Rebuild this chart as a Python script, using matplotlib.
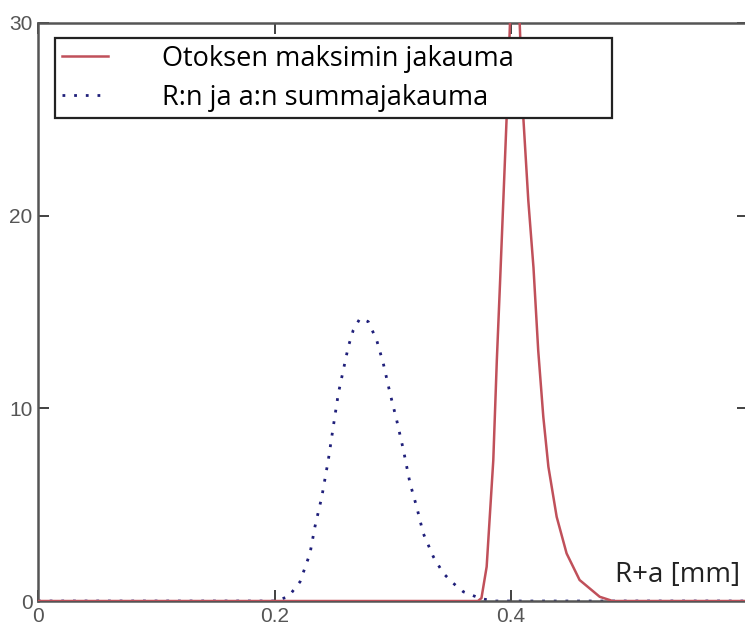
import numpy as np
import matplotlib
matplotlib.use("Agg")
import matplotlib.pyplot as plt

# values
max_x = [0.0, 0.372, 0.375, 0.3794, 0.385, 0.388, 0.3907, 0.3935, 0.3963,
         0.400, 0.403, 0.407, 0.4104, 0.4146, 0.419, 0.423, 0.4273, 0.4316,
         0.4386, 0.447, 0.458, 0.475, 0.486, 0.6]
max_y = [0.0, 0.0, 0.15, 1.78, 7.3, 12.5, 16.5, 20.8, 25.1,
         31.5, 33.0, 30.5, 25.1, 20.8, 17.3, 13.0, 9.56, 6.97,
         4.37, 2.47, 1.09, 0.22, 0.0, 0.0]

sum_x = [0.0, 0.2, 0.2117, 0.2216, 0.23, 0.2342, 0.24, 0.2455, 0.2497, 0.254,
         0.2582, 0.2624, 0.2666, 0.2723, 0.2793, 0.2864, 0.292, 0.2977, 0.3033,
         0.309, 0.3146, 0.3202, 0.3258, 0.3343, 0.3427, 0.3512, 0.3597, 0.3738,
         0.385, 0.6]
sum_y = [0.0, 0.0, 0.22, 1.0, 2.47, 3.86, 5.41, 7.32, 9.05, 10.78,
         11.99, 13.2, 14.06, 14.67, 14.5, 13.54, 12.33, 10.78, 9.39,
         7.84, 6.11, 4.89, 3.51, 2.3, 1.44, 0.92, 0.48, 0.14,
         0.0, 0.0]

labels = ["Otoksen maksimin jakauma", "R:n ja a:n summajakauma"]
x_ticks = [0, 0.2, 0.4]
y_ticks = [0, 10, 20, 30]

fig = plt.figure(figsize=(7.45, 6.3), dpi=100)
ax = fig.add_axes([0.051, 0.046, 0.9524, 0.9175])

ax.plot(max_x, max_y, color="#c0505a", lw=1.8, label=labels[0], zorder=3)
ax.plot(sum_x, sum_y, color="#1f1f7a", lw=2.0, linestyle=(0, (1, 3.2)),
        label=labels[1], zorder=2)

ax.set_xlim(0, 0.6)
ax.set_ylim(0, 30)
ax.set_xticks(x_ticks)
ax.set_xticklabels(["0", "0.2", "0.4"])
ax.set_yticks(y_ticks)
ax.tick_params(direction="in", length=8, width=1.3, colors="#333333",
               labelcolor="#555555", labelsize=15, top=True, right=True,
               pad=4)
for lab in ax.get_xticklabels() + ax.get_yticklabels():
    lab.set_family("Liberation Sans")
for sp in ax.spines.values():
    sp.set_color("#555555")
    sp.set_linewidth(1.8)

ax.text(0.989, 0.02, "R+a [mm]", transform=ax.transAxes, ha="right",
        va="bottom", fontsize=20, family="Open Sans", color="#222222")

leg = ax.legend(loc="upper left", bbox_to_anchor=(0.024, 0.974, 0.785, 0.0),
                mode="expand", prop={"family": "Open Sans", "size": 19.5},
                frameon=True, fancybox=False, framealpha=1.0, edgecolor="#222222",
                handlelength=1.7, handletextpad=2.0, borderpad=0.25,
                labelspacing=0.4, borderaxespad=0)
leg.get_frame().set_linewidth(1.6)
leg.set_zorder(5)

fig.savefig("out.png", dpi=100)
